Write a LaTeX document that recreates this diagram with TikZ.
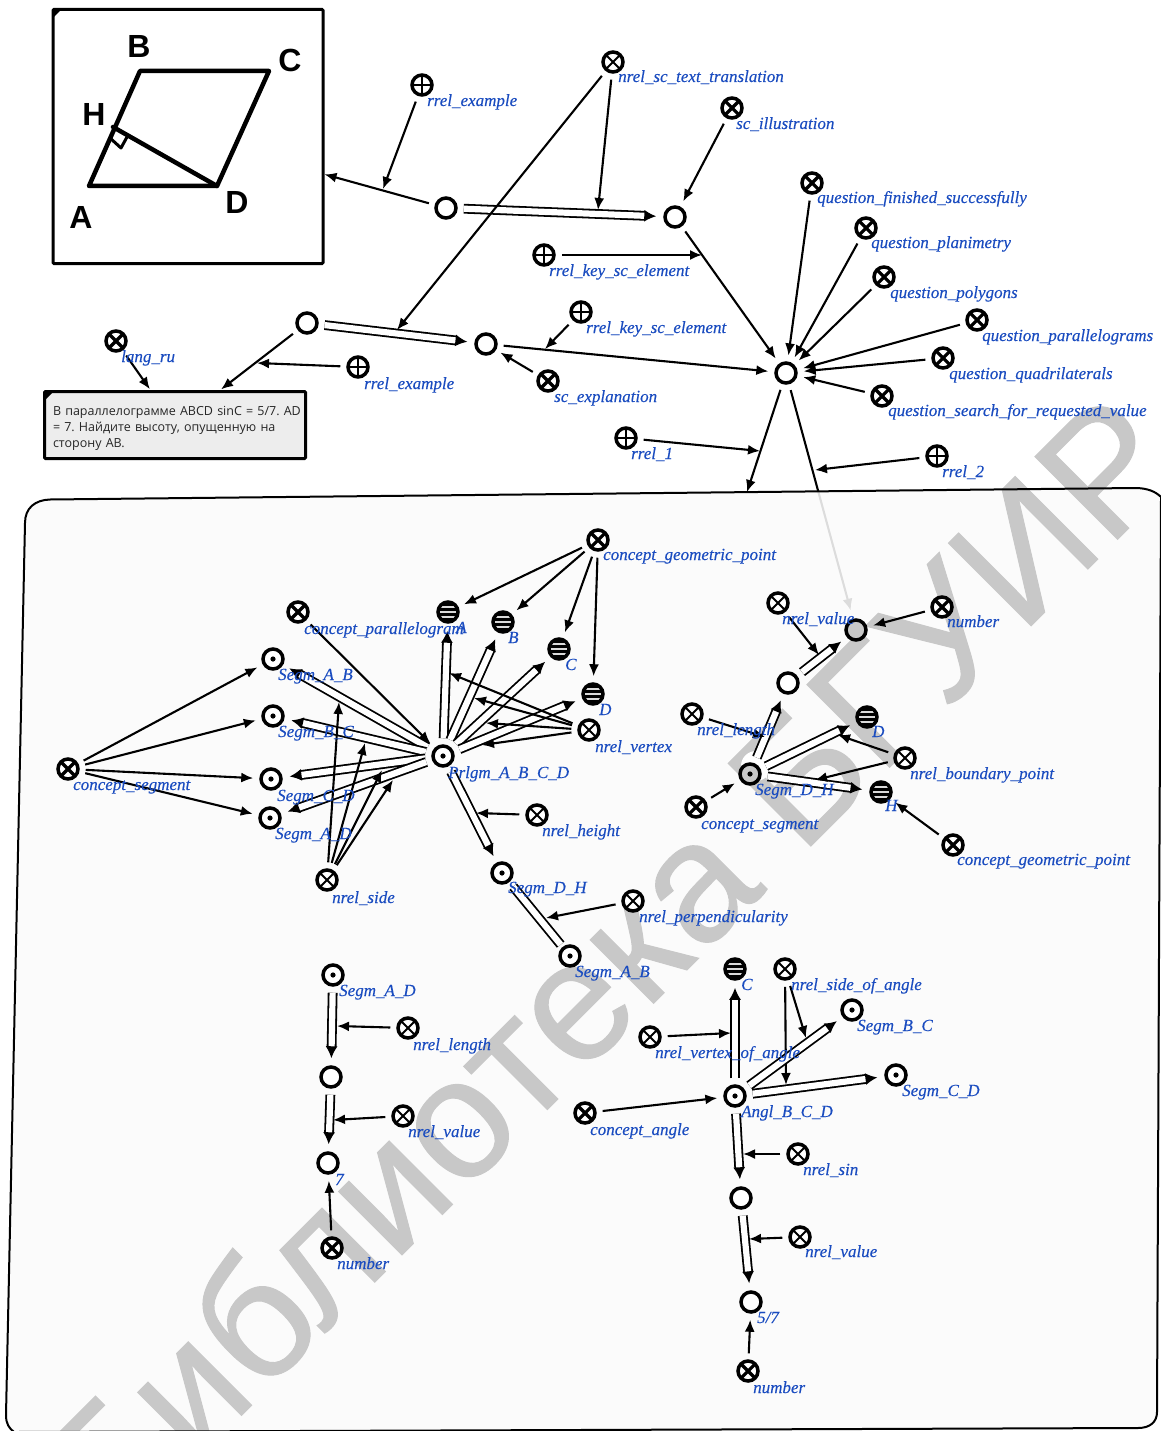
\documentclass[tikz,border=0pt]{standalone}
\usepackage{fontspec}
\usetikzlibrary{arrows.meta,calc}
\setmainfont{Liberation Serif}
\newfontfamily\labfont[ItalicFeatures={FakeBold=0.25}]{Liberation Serif}
\newfontfamily\wmfont[FakeBold=0.6]{Liberation Sans}
\newfontfamily\boxfont{Open Sans}
\newfontfamily\geofont{Liberation Sans}
\definecolor{lblue}{HTML}{1A4CC0}
\definecolor{wmgray}{HTML}{C8C8C8}
\pgfdeclarelayer{labels}
\pgfsetlayers{main,labels}
\tikzset{
 sc/.style={circle,draw=black,line width=3.5pt,fill=white,minimum size=20pt,inner sep=0pt},
 plainn/.style={sc},
 dotn/.style={sc,path picture={\fill[black] (path picture bounding box.center) circle (2.6pt);}},
 plusn/.style={sc,path picture={\draw[black,line width=2pt] (path picture bounding box.north)--(path picture bounding box.south) (path picture bounding box.west)--(path picture bounding box.east);}},
 rolen/.style={sc,path picture={\draw[black,line width=2pt] (path picture bounding box.north west)--(path picture bounding box.south east) (path picture bounding box.north east)--(path picture bounding box.south west);}},
 classn/.style={sc,path picture={\draw[black,line width=3.2pt] (path picture bounding box.north west)--(path picture bounding box.south east) (path picture bounding box.north east)--(path picture bounding box.south west);}},
 stripen/.style={sc,path picture={\fill[black] (path picture bounding box.south west) rectangle (path picture bounding box.north east);
   \foreach \d in {-5,0,5}{\draw[white!85!black,line width=2.4pt] ($(path picture bounding box.center)+(-12,\d)$)--($(path picture bounding box.center)+(12,\d)$);}}},
 lab/.style={anchor=base west,inner sep=0pt,text=lblue,font=\labfont\itshape\fontsize{17}{19}\selectfont},
 arr/.style={draw=black,line width=2.1pt,-{Latex[length=12pt,width=10pt]},shorten <=6pt,shorten >=6pt},
 dbl/.style={draw=black,line width=1.8pt,double=white,double distance=6.2pt,-{Latex[length=12pt,width=12pt]},shorten <=6pt,shorten >=7pt},
 dblnone/.style={draw=black,line width=1.8pt,double=white,double distance=6.2pt,shorten <=6pt,shorten >=3pt},
 geoline/.style={draw=black,line width=4.5pt,line cap=round,line join=round},
 geolab/.style={inner sep=0pt,font=\geofont\bfseries\fontsize{32}{32}\selectfont},
}
\newcommand{\sn}[4]{\node[#1] (#2) at (#3,#4) {};}
\newcommand{\lb}[4]{\begin{pgfonlayer}{labels}\node[lab] (#1) at (#2,#3+5) {#4};\end{pgfonlayer}}
\newcommand{\framepath}{(25,523) .. controls (25,508) and (35,500) .. (50,499.5) -- (1135,488) .. controls (1148,488) and (1156,492) .. (1161,497) -- (1157,1412) .. controls (1157,1422) and (1150,1428) .. (1138,1428) -- (14,1432) .. controls (9,1428) and (6,1424) .. (6,1415) -- cycle}
\begin{document}
\frenchspacing
\begin{tikzpicture}[x=1pt,y=-1pt]
\useasboundingbox (0,0) rectangle (1160,1431);
\fill[white] (0,0) rectangle (1160,1431);
% upper nodes
\node[draw=black,line width=3pt,fill=white,minimum width=270pt,minimum height=254pt,rounded corners=1pt] (pic) at (188,136.5) {};
\fill[black] (52,9) -- (62,9) -- (52,19) -- cycle;
\node[draw=black,line width=3pt,fill=black!7,minimum width=261pt,minimum height=67pt,rounded corners=1pt,inner sep=0pt] (tb) at (175,425) {};
\node[inner sep=0pt,text width=250pt,align=left,font=\boxfont\fontsize{12.5}{16}\selectfont,text=black!85] (tbt) at (178,428) {В параллелограмме ABCD sinC = 5/7. AD\\= 7. Найдите высоту, опущенную на\\сторону AB.};
\fill[black] (44,391) -- (54,391) -- (44,401) -- cycle;
% geometry picture
\coordinate (gA) at (89,186); \coordinate (gB) at (140,71); \coordinate (gC) at (269,71); \coordinate (gD) at (217,186); \coordinate (gH) at (113,127);
\draw[geoline] (gA) -- (gB) -- (gC) -- (gD) -- cycle;
\draw[geoline] (gH) -- (gD);
\draw[draw=black,line width=3pt,line join=round] (110,138) -- (121,148) -- (127,137);
\node[geolab] (tB) at (139,46) {B};
\node[geolab] (tC) at (290,60) {C};
\node[geolab] (tH) at (94,114) {H};
\node[geolab] (tA) at (81,217) {A};
\node[geolab] (tD) at (237,202) {D};
% sc nodes top
\sn{plainn}{n1}{446}{208} \sn{plainn}{n2}{675}{217} \sn{plainn}{n3}{307}{323} \sn{plainn}{n4}{486}{344} \sn{plainn}{mainn}{786}{373}
\sn{plusn}{ex1}{422}{85} \lb{lex1}{427}{101}{rrel\_example}
\sn{rolen}{tr}{613}{62} \lb{ltr}{618}{77}{nrel\_sc\_text\_translation}
\sn{classn}{ill}{732}{108} \lb{lill}{736}{124}{sc\_illustration}
\sn{classn}{qf}{812}{183} \lb{lqf}{817}{198}{question\_finished\_successfully}
\sn{classn}{qpl}{866}{228} \lb{lqpl}{871}{243}{question\_planimetry}
\sn{classn}{qpo}{884}{277} \lb{lqpo}{890}{293}{question\_polygons}
\sn{classn}{qpa}{977}{320} \lb{lqpa}{982}{336}{question\_parallelograms}
\sn{classn}{qq}{943}{358} \lb{lqq}{949}{374}{question\_quadrilaterals}
\sn{classn}{qs}{882}{396} \lb{lqs}{888}{411}{question\_search\_for\_requested\_value}
\sn{plusn}{k1}{544}{255} \lb{lk1}{549}{271}{rrel\_key\_sc\_element}
\sn{plusn}{k2}{581}{312} \lb{lk2}{586}{328}{rrel\_key\_sc\_element}
\sn{classn}{expl}{548}{381} \lb{lexpl}{554}{397}{sc\_explanation}
\sn{plusn}{ex2}{358}{367} \lb{lex2}{364}{384}{rrel\_example}
\sn{classn}{lang}{116}{341} \lb{llang}{121}{357}{lang\_ru}
\sn{plusn}{r1}{626}{438} \lb{lr1}{631}{454}{rrel\_1}
\sn{plusn}{r2}{937}{456} \lb{lr2}{942}{472}{rrel\_2}
% target for the faded arrow
\coordinate (valc) at (856,630);
% top connectors
\coordinate (e1) at (383,189); \coordinate (e2) at (598,210); \coordinate (e3) at (397,330); \coordinate (e4) at (702,255); \coordinate (e5) at (257,363); \coordinate (e6) at (545,349); \coordinate (e7) at (760,451); \coordinate (e8) at (815,470); \coordinate (f1) at (747,492);
\draw[arr,shorten >=0pt] (n1) -- (pic);
\draw[arr,shorten >=0pt] (ex1) -- (e1);
\draw[dbl] (n1) -- (n2);
\draw[arr,shorten >=0pt] (tr) -- (e2);
\draw[arr,shorten >=0pt] (tr) -- (e3);
\draw[arr] (ill) -- (n2);
\draw[arr] (n2) -- (mainn);
\draw[arr,shorten >=0pt] (k1) -- (e4);
\draw[arr,shorten >=1pt] (n3) -- (tb);
\draw[arr,shorten >=0pt] (ex2) -- (e5);
\draw[dbl] (n3) -- (n4);
\draw[arr] (n4) -- (mainn);
\draw[arr,shorten >=0pt] (k2) -- (e6);
\draw[arr,shorten >=5pt] (expl) -- (n4);
\draw[arr,shorten >=1pt] (lang) -- (tb);
\draw[arr] (qf) -- (mainn);
\draw[arr] (qpl) -- (mainn);
\draw[arr] (qpo) -- (mainn);
\draw[arr] (qpa) -- (mainn);
\draw[arr] (qq) -- (mainn);
\draw[arr] (qs) -- (mainn);
\draw[arr,shorten >=0pt] (mainn) -- (f1);
\draw[arr,shorten >=20pt] (mainn) -- (valc);
\draw[arr,shorten >=0pt] (r1) -- (e7);
\draw[arr,shorten >=0pt] (r2) -- (e8);
% frame fill
\path[fill=black!1.5,fill opacity=0.88] \framepath;
% watermark
\begin{scope}
\clip (0,0) rectangle (1160,1431);
\node[text=wmgray,anchor=base,inner sep=0pt,rotate=45,font=\wmfont\fontsize{170}{170}\selectfont] (wm) at (651,1006) {\special{pdf:code 0.784 G}Библиотека БГУИР\special{pdf:code 0 G}};
\end{scope}
\path[draw=black,line width=2pt] \framepath;
% frame nodes
\sn{classn}{cgp}{598}{540} \lb{lcgp}{603}{555}{concept\_geometric\_point}
\sn{classn}{cpar}{298}{612} \lb{lcpar}{304}{629}{concept\_parallelogram}
\sn{stripen}{pA}{448}{612} \lb{lpA}{456}{628}{A}
\sn{stripen}{pB}{503}{622} \lb{lpB}{508}{638}{B}
\sn{stripen}{pC}{559}{649} \lb{lpC}{565}{665}{C}
\sn{stripen}{pD}{593}{694} \lb{lpD}{599}{710}{D}
\sn{rolen}{nv}{589}{730} \lb{lnv}{595}{747}{nrel\_vertex}
\sn{dotn}{prl}{443}{756} \lb{lprl}{448}{773}{Prlgm\_A\_B\_C\_D}
\sn{dotn}{sab}{273}{659} \lb{lsab}{278}{675}{Segm\_A\_B}
\sn{dotn}{sbc}{273}{716} \lb{lsbc}{278}{732}{Segm\_B\_C}
\sn{dotn}{scd}{271}{779} \lb{lscd}{277}{796}{Segm\_C\_D}
\sn{dotn}{sad}{270}{818} \lb{lsad}{275}{834}{Segm\_A\_D}
\sn{classn}{cseg}{68}{769} \lb{lcseg}{73}{785}{concept\_segment}
\sn{rolen}{nside}{327}{880} \lb{lnside}{332}{898}{nrel\_side}
\sn{rolen}{nh}{537}{815} \lb{lnh}{542}{831}{nrel\_height}
\sn{dotn}{sdh}{502}{873} \lb{lsdh}{508}{888}{Segm\_D\_H}
\sn{dotn}{sab2}{570}{956} \lb{lsab2}{575}{972}{Segm\_A\_B}
\sn{rolen}{nperp}{633}{901} \lb{lnperp}{639}{917}{nrel\_perpendicularity}
% right group
\sn{rolen}{nval}{778}{603} \lb{lnval}{782}{619}{nrel\_value}
\node[sc,fill=wmgray] (val) at (856,630) {};
\sn{classn}{numb}{942}{607} \lb{lnumb}{947}{622}{number}
\sn{plainn}{o5}{788}{683}
\sn{rolen}{nlen}{692}{714} \lb{lnlen}{697}{730}{nrel\_length}
\sn{stripen}{qD}{867}{717} \lb{lqD}{872}{732}{D}
\sn{rolen}{nbp}{905}{758} \lb{lnbp}{910}{774}{nrel\_boundary\_point}
\fill[white] (756,766) circle (15pt);
\node[dotn,fill=wmgray] (sdh2) at (750,774) {};
\lb{lsdh2}{755}{790}{Segm\_D\_H}
\sn{stripen}{qH}{881}{792} \lb{lqH}{885}{806}{H}
\sn{classn}{cseg2}{696}{807} \lb{lcseg2}{701}{824}{concept\_segment}
\sn{classn}{cgp2}{953}{845} \lb{lcgp2}{957}{860}{concept\_geometric\_point}
% bottom middle group
\sn{dotn}{sad2}{333}{975} \lb{lsad2}{339}{991}{Segm\_A\_D}
\sn{rolen}{nlen2}{408}{1028} \lb{lnlen2}{413}{1045}{nrel\_length}
\sn{plainn}{o6}{331}{1077}
\sn{rolen}{nval2}{403}{1116} \lb{lnval2}{408}{1132}{nrel\_value}
\sn{plainn}{o7}{328}{1163} \lb{lo7}{335}{1180}{7}
\sn{classn}{numb2}{332}{1248} \lb{lnumb2}{337}{1264}{number}
% bottom right group
\sn{stripen}{aC}{735}{969} \lb{laC}{741}{985}{C}
\sn{rolen}{nsa}{785}{969} \lb{lnsa}{791}{985}{nrel\_side\_of\_angle}
\sn{dotn}{sbc2}{852}{1010} \lb{lsbc2}{857}{1026}{Segm\_B\_C}
\sn{rolen}{nva}{650}{1037} \lb{lnva}{655}{1053}{nrel\_vertex\_of\_angle}
\sn{dotn}{scd2}{896}{1075} \lb{lscd2}{902}{1091}{Segm\_C\_D}
\sn{dotn}{ang}{735}{1096} \lb{lang2}{741}{1112}{Angl\_B\_C\_D}
\sn{classn}{cang}{585}{1113} \lb{lcang}{590}{1130}{concept\_angle}
\sn{rolen}{nsin}{798}{1154} \lb{lnsin}{803}{1170}{nrel\_sin}
\sn{plainn}{o8}{741}{1198}
\sn{rolen}{nval3}{800}{1237} \lb{lnval3}{805}{1252}{nrel\_value}
\sn{plainn}{o9}{751}{1302} \lb{lo9}{757}{1318}{5/7}
\sn{classn}{numb3}{748}{1371} \lb{lnumb3}{753}{1388}{number}
% frame connectors
\draw[arr] (cgp) -- (pA);
\draw[arr] (cgp) -- (pB);
\draw[arr] (cgp) -- (pC);
\draw[arr] (cgp) -- (pD);
\draw[dbl] (prl) -- (pA);
\draw[dbl] (prl) -- (pB);
\draw[dbl] (prl) -- (pC);
\draw[dbl] (prl) -- (pD);
\coordinate (v1) at (449,673); \coordinate (v2) at (474,698); \coordinate (v3) at (486,723); \coordinate (v4) at (482,745);
\draw[arr,shorten >=0pt] (nv) -- (v1);
\draw[arr,shorten >=0pt] (nv) -- (v2);
\draw[arr,shorten >=0pt] (nv) -- (v3);
\draw[arr,shorten >=0pt] (nv) -- (v4);
\draw[arr] (cpar) -- (prl);
\draw[arr] (cseg) -- (sab);
\draw[arr] (cseg) -- (sbc);
\draw[arr] (cseg) -- (scd);
\draw[arr] (cseg) -- (sad);
\draw[dbl] (prl) -- (sab);
\draw[dbl] (prl) -- (sbc);
\draw[dbl] (prl) -- (scd);
\draw[dbl] (prl) -- (sad);
\coordinate (s1) at (339,702); \coordinate (s2) at (365,743); \coordinate (s3) at (382,770); \coordinate (s4) at (393,780);
\draw[arr,shorten >=0pt] (nside) -- (s1);
\draw[arr,shorten >=0pt] (nside) -- (s2);
\draw[arr,shorten >=0pt] (nside) -- (s3);
\draw[arr,shorten >=0pt] (nside) -- (s4);
\coordinate (h1) at (476,813); \coordinate (h2) at (546,918);
\draw[arr,shorten >=0pt] (nh) -- (h1);
\draw[dbl] (prl) -- (sdh);
\draw[dblnone] (sdh) -- (sab2);
\draw[arr,shorten >=0pt] (nperp) -- (h2);
% right connectors
\coordinate (w1) at (819,655); \coordinate (w2) at (765,737); \coordinate (w3) at (838,735); \coordinate (w4) at (815,780);
\draw[arr,shorten >=0pt] (nval) -- (w1);
\draw[arr] (numb) -- (val);
\draw[dbl] (o5) -- (val);
\draw[dbl] (sdh2) -- (o5);
\draw[arr,shorten >=0pt] (nlen) -- (w2);
\draw[dbl] (sdh2) -- (qD);
\draw[dbl] (sdh2) -- (qH);
\draw[arr,shorten >=0pt] (nbp) -- (w3);
\draw[arr,shorten >=0pt] (nbp) -- (w4);
\draw[arr] (cseg2) -- (sdh2);
\draw[arr] (cgp2) -- (qH);
% bottom middle connectors
\coordinate (m1) at (337,1026); \coordinate (m2) at (333,1120);
\draw[dbl] (sad2) -- (o6);
\draw[arr,shorten >=0pt] (nlen2) -- (m1);
\draw[dbl] (o6) -- (o7);
\draw[arr,shorten >=0pt] (nval2) -- (m2);
\draw[arr] (numb2) -- (o7);
% bottom right connectors
\coordinate (b1) at (731,1033); \coordinate (b2) at (806,1038); \coordinate (b3) at (786,1085); \coordinate (b4) at (743,1154); \coordinate (b5) at (749,1239);
\draw[dbl] (ang) -- (aC);
\draw[arr,shorten >=0pt] (nva) -- (b1);
\draw[arr,shorten >=0pt] (nsa) -- (b2);
\draw[arr,shorten >=0pt] (nsa) -- (b3);
\draw[dbl] (ang) -- (sbc2);
\draw[dbl] (ang) -- (scd2);
\draw[arr] (cang) -- (ang);
\draw[dbl] (ang) -- (o8);
\draw[arr,shorten >=0pt] (nsin) -- (b4);
\draw[dbl] (o8) -- (o9);
\draw[arr,shorten >=0pt] (nval3) -- (b5);
\draw[arr] (numb3) -- (o9);
\end{tikzpicture}
\end{document}
